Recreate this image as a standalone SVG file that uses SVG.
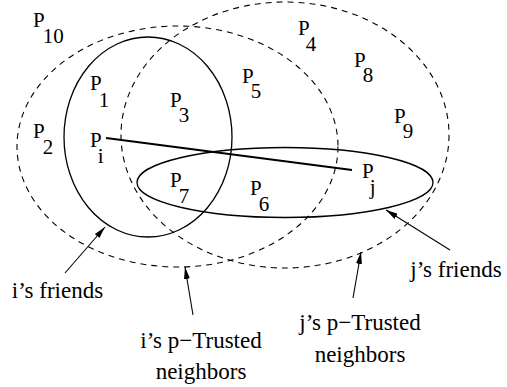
<svg xmlns="http://www.w3.org/2000/svg" width="507" height="387" viewBox="0 0 507 387">
<style>
.t{font-family:"Liberation Serif","Times New Roman",serif;fill:#000}
.p{font-size:21px}
.l{font-size:23px;text-anchor:middle}
.d{fill:none;stroke:#000;stroke-width:1.1;stroke-dasharray:6,5}
.s{fill:none;stroke:#000;stroke-width:1.3}
.a{stroke:#000;stroke-width:1.1;fill:none;marker-end:url(#ah)}
</style>
<defs>
<marker id="ah" viewBox="0 0 12 6" refX="12" refY="3" markerWidth="12" markerHeight="6" markerUnits="userSpaceOnUse" orient="auto">
<path d="M0,0 L12,3 L0,6 Z" fill="#000"/>
</marker>
</defs>
<g id="i-trusted"><ellipse class="d" cx="177.5" cy="146.5" rx="160.5" ry="120.5"/></g>
<g id="j-trusted"><ellipse class="d" cx="285" cy="135" rx="164" ry="133"/></g>
<g id="i-friends"><ellipse class="s" cx="148" cy="137" rx="84" ry="100"/></g>
<g id="j-friends"><ellipse class="s" cx="285" cy="182.5" rx="148" ry="35"/></g>
<g id="nodes">
<g id="p10"><text class="t p" x="33" y="27">P<tspan dx="-2" dy="16">10</tspan></text></g>
<g id="p1"><text class="t p" x="90" y="90">P<tspan dx="-3" dy="17">1</tspan></text></g>
<g id="p3"><text class="t p" x="170" y="107">P<tspan dx="-3" dy="15">3</tspan></text></g>
<g id="p5"><text class="t p" x="242" y="83">P<tspan dx="-3" dy="15">5</tspan></text></g>
<g id="p2"><text class="t p" x="33" y="138">P<tspan dx="-2" dy="16">2</tspan></text></g>
<g id="pi"><text class="t p" x="90" y="147">P<tspan dx="-4" dy="16">i</tspan></text></g>
<g id="p7"><text class="t p" x="170" y="187">P<tspan dx="-3" dy="16">7</tspan></text></g>
<g id="p6"><text class="t p" x="250" y="195">P<tspan dx="-3" dy="16">6</tspan></text></g>
<g id="p4"><text class="t p" x="298" y="35">P<tspan dx="-4" dy="16">4</tspan></text></g>
<g id="p8"><text class="t p" x="354" y="67">P<tspan dx="-3" dy="15">8</tspan></text></g>
<g id="p9"><text class="t p" x="394" y="123">P<tspan dx="-3" dy="15">9</tspan></text></g>
<g id="pj"><text class="t p" x="362" y="178">P<tspan dx="-4" dy="16">j</tspan></text></g>
</g>
<g id="connectors">
<line x1="106" y1="138" x2="352" y2="170" stroke="#000" stroke-width="2"/>
<line class="a" x1="65" y1="273" x2="105" y2="227"/>
<line class="a" x1="193" y1="315" x2="185" y2="267"/>
<line class="a" x1="450" y1="250" x2="386" y2="210"/>
<line class="a" x1="353" y1="298" x2="361" y2="252"/>
</g>
<g id="labels">
<text class="t l" x="57.5" y="298">i’s friends</text>
<text class="t l" x="456" y="277">j’s friends</text>
<text class="t l" x="201" y="348">i’s p−Trusted</text>
<text class="t l" x="201" y="379">neighbors</text>
<text class="t l" x="360" y="330">j’s p−Trusted</text>
<text class="t l" x="360" y="362">neighbors</text>
</g>
</svg>
